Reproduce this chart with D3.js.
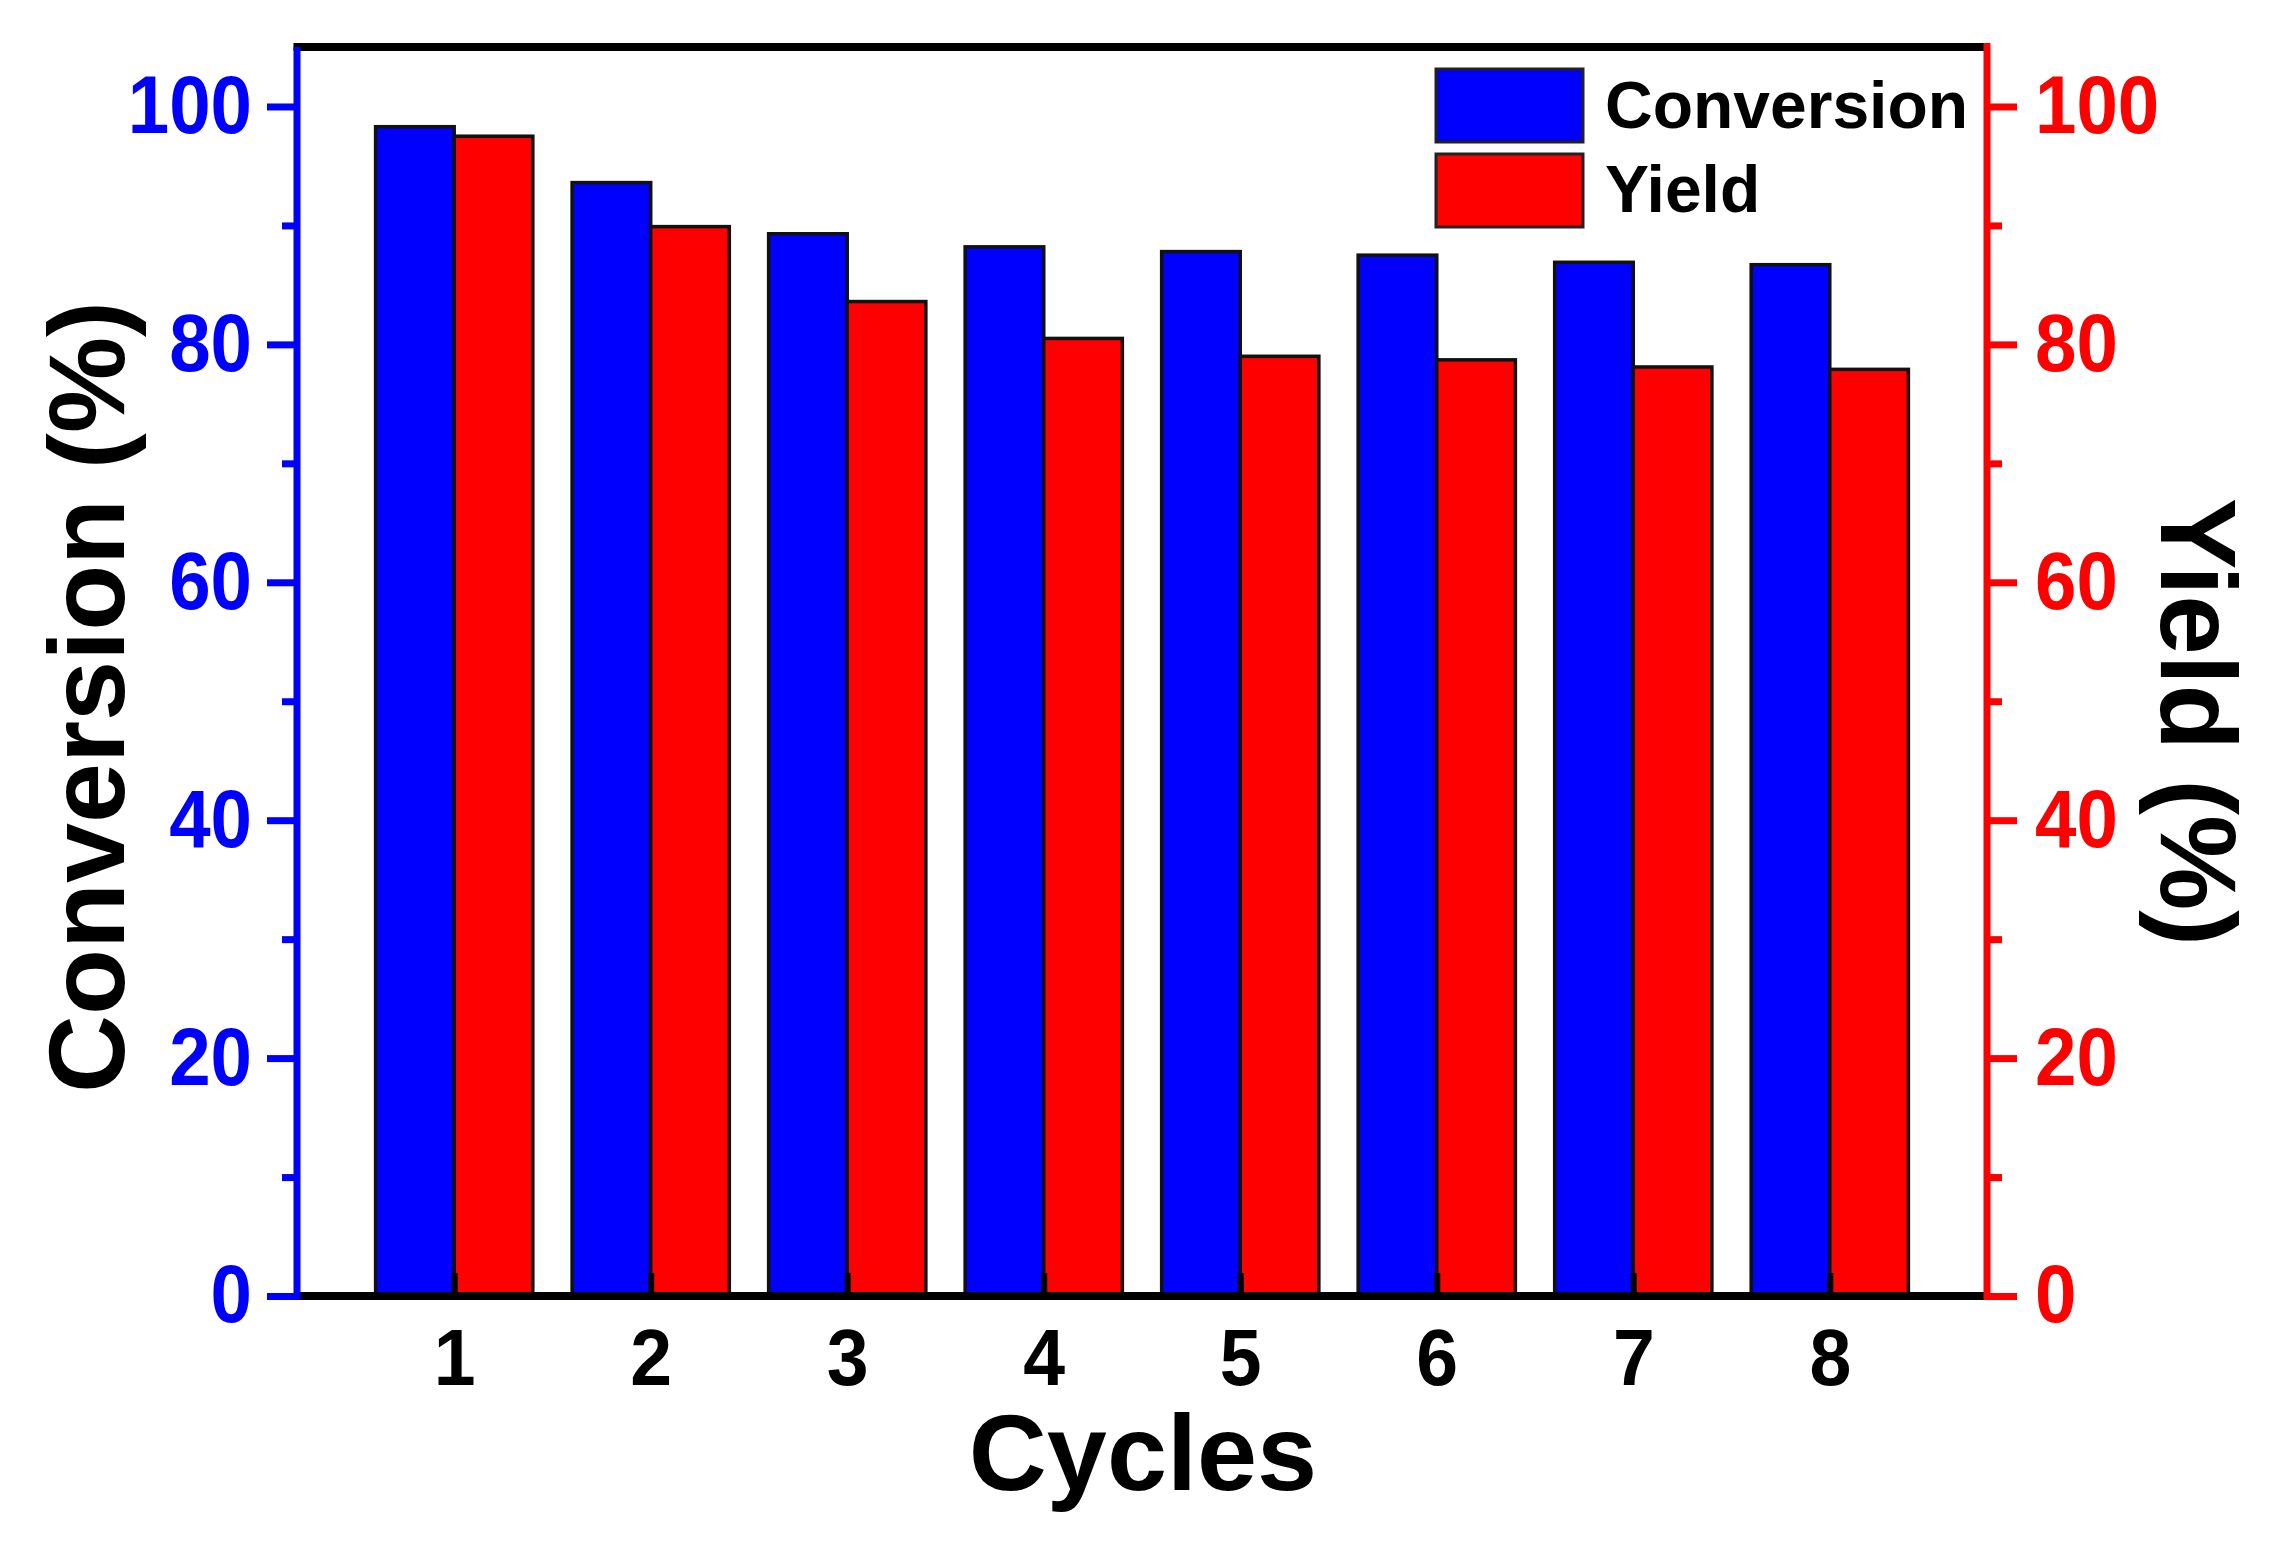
<!DOCTYPE html>
<html>
<head>
<meta charset="utf-8">
<script src="https://cdn.jsdelivr.net/npm/d3@7"></script>
<style>
  body { margin: 0; background: #fff; }
  text { font-family: "Liberation Sans", Arial, sans-serif; font-weight: bold; }
</style>
</head>
<body>
<svg id="chart" width="2287" height="1548"></svg>
<script>
// data
var cycles = [1, 2, 3, 4, 5, 6, 7, 8];
var conversion = [98.3, 93.6, 89.3, 88.2, 87.8, 87.5, 86.9, 86.7];
var yieldVals = [97.5, 89.9, 83.6, 80.5, 79.0, 78.7, 78.1, 77.9];
var yTicks = [0, 20, 40, 60, 80, 100];
var yMinor = [10, 30, 50, 70, 90];
var seriesNames = ["Conversion", "Yield"];
var seriesColors = ["#0000ff", "#ff0000"];

var svg = d3.select("#chart");
// plot frame (note: "top" is reserved on window, so use other names)
var pLeft = 297, pRight = 1987, pTop = 47, pBottom = 1296;

var x = d3.scaleLinear().domain([0.2, 8.8]).range([pLeft, pRight]);
var yL = d3.scaleLinear().domain([0, 105]).range([pBottom, pTop]);
var yR = d3.scaleLinear().domain([0, 105]).range([pBottom, pTop]);
var barW = x(0.4) - x(0);

// squeeze the tick digits a bit, the original font is narrower
function narrow(sel, k) {
  sel.each(function() {
    var t = d3.select(this);
    t.attr("x", (+t.attr("x")) / k).attr("transform", "scale(" + k + ",1)");
  });
}

// bars
var rows = cycles.map(function(c, i) { return {c: c, conv: conversion[i], yld: yieldVals[i]}; });

svg.append("g").selectAll("rect").data(rows).enter().append("rect")
  .attr("x", function(d) { return x(d.c) - barW; })
  .attr("y", function(d) { return yL(d.conv); })
  .attr("width", barW)
  .attr("height", function(d) { return pBottom - yL(d.conv); })
  .attr("fill", seriesColors[0])
  .attr("stroke", "#111")
  .attr("stroke-width", 3.5);

svg.append("g").selectAll("rect").data(rows).enter().append("rect")
  .attr("x", function(d) { return x(d.c); })
  .attr("y", function(d) { return yR(d.yld); })
  .attr("width", barW)
  .attr("height", function(d) { return pBottom - yR(d.yld); })
  .attr("fill", seriesColors[1])
  .attr("stroke", "#111")
  .attr("stroke-width", 3.5);

// left axis (blue)
var gL = svg.append("g").attr("transform", "translate(" + pLeft + ",0)");
gL.call(d3.axisLeft(yL).tickValues(yTicks).tickSize(30).tickPadding(15).tickSizeOuter(0));
gL.append("g").call(d3.axisLeft(yL).tickValues(yMinor).tickSize(15).tickFormat(""));
gL.selectAll("path.domain").remove();
gL.selectAll("line").attr("stroke", "#0000ff").attr("stroke-width", 7);
gL.selectAll("text").attr("fill", "#0000ff").style("font-size", "81px").call(narrow, 0.92);

// right axis (red)
var gR = svg.append("g").attr("transform", "translate(" + pRight + ",0)");
gR.call(d3.axisRight(yR).tickValues(yTicks).tickSize(30).tickPadding(18).tickSizeOuter(0));
gR.append("g").call(d3.axisRight(yR).tickValues(yMinor).tickSize(15).tickFormat(""));
gR.selectAll("path.domain").remove();
gR.selectAll("line").attr("stroke", "#ff0000").attr("stroke-width", 7);
gR.selectAll("text").attr("fill", "#ff0000").style("font-size", "81px").call(narrow, 0.92);

// bottom axis, ticks pointing inward
var gB = svg.append("g").attr("transform", "translate(0," + pBottom + ")");
gB.call(d3.axisBottom(x).tickValues(cycles).tickSize(-23).tickPadding(32).tickFormat(d3.format("d")).tickSizeOuter(0));
gB.selectAll("path.domain").remove();
gB.selectAll("line").attr("stroke", "#000").attr("stroke-width", 6);
gB.selectAll("text").attr("fill", "#000").style("font-size", "80px").call(narrow, 0.94);

// frame
svg.append("line").attr("x1", pLeft - 3.5).attr("x2", pRight).attr("y1", pTop).attr("y2", pTop)
  .attr("stroke", "#000").attr("stroke-width", 8);
svg.append("line").attr("x1", pLeft).attr("x2", pRight).attr("y1", pBottom).attr("y2", pBottom)
  .attr("stroke", "#000").attr("stroke-width", 8);
svg.append("line").attr("x1", pLeft).attr("x2", pLeft).attr("y1", pTop).attr("y2", pBottom + 4)
  .attr("stroke", "#0000ff").attr("stroke-width", 7);
svg.append("line").attr("x1", pRight).attr("x2", pRight).attr("y1", pTop - 4).attr("y2", pBottom + 4)
  .attr("stroke", "#ff0000").attr("stroke-width", 7);

// legend
var leg = svg.append("g").attr("transform", "translate(1436,69)");
seriesNames.forEach(function(name, i) {
  leg.append("rect")
    .attr("x", 0).attr("y", i * 85)
    .attr("width", 147).attr("height", 73)
    .attr("fill", seriesColors[i])
    .attr("stroke", "#222").attr("stroke-width", 3);
  leg.append("text")
    .attr("x", 169).attr("y", 59 + i * 84)
    .style("font-size", "66px")
    .attr("fill", "#000")
    .text(name);
});

// axis titles
svg.append("text")
  .attr("transform", "translate(85,697) rotate(-90)")
  .attr("text-anchor", "middle").attr("dy", "0.36em")
  .style("font-size", "108px")
  .text("Conversion (%)");

svg.append("text")
  .attr("transform", "translate(2200,722) rotate(90)")
  .attr("text-anchor", "middle").attr("dy", "0.36em")
  .style("font-size", "107px")
  .text("Yield (%)");

svg.append("text")
  .attr("x", 1143).attr("y", 1490)
  .attr("text-anchor", "middle")
  .style("font-size", "108px")
  .text("Cycles");
</script>
</body>
</html>
